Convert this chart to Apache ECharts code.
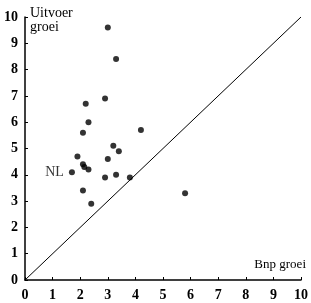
<!DOCTYPE html>
<html>
<head>
<meta charset="utf-8">
<script src="https://cdn.jsdelivr.net/npm/echarts@6/dist/echarts.min.js"></script>
<style>
  html, body { margin: 0; padding: 0; background: #fff; }
  #chart { width: 311px; height: 303px; }
</style>
</head>
<body>
<div id="chart"></div>
<script>
// Bnp groei (x) vs Uitvoer groei (y), one dot per country
const bnpGroei = [3.0, 3.3, 2.9, 2.2, 2.3, 2.1, 4.2, 3.2, 3.4, 1.9, 3.0, 2.1, 2.15, 2.3, 3.3, 2.9, 3.8, 2.1, 2.4, 5.8];
const uitvoerGroei = [9.6, 8.4, 6.9, 6.7, 6.0, 5.6, 5.7, 5.1, 4.9, 4.7, 4.6, 4.4, 4.3, 4.2, 4.0, 3.9, 3.9, 3.4, 2.9, 3.3];
const nlPoint = [1.7, 4.1];
const diagonal = [[0, 0], [10, 10]];

const font = "'Liberation Serif', 'DejaVu Serif', serif";

const chart = echarts.init(document.getElementById("chart"), null, { renderer: "canvas" });

const axisCommon = {
  type: "value",
  min: 0,
  max: 10,
  interval: 1,
  splitLine: { show: false },
  axisLine: { show: true, onZero: false, lineStyle: { color: "#000", width: 1.5 } },
  axisTick: { show: true, inside: true, length: 3, lineStyle: { color: "#000" } },
  axisLabel: { color: "#000", fontFamily: font, fontWeight: "bold", fontSize: 14 },
};

chart.setOption({
  animation: false,
  backgroundColor: "#fff",
  grid: { left: 25, right: 9, top: 17, bottom: 23, containLabel: false },
  xAxis: { ...axisCommon, axisLabel: { ...axisCommon.axisLabel, margin: 8 } },
  yAxis: { ...axisCommon, axisLabel: { ...axisCommon.axisLabel, margin: 7 } },
  graphic: [
    {
      type: "text", left: 30, top: 6,
      style: { text: "Uitvoer\ngroei", fill: "#000", font: "500 14px " + font, lineHeight: 14 },
    },
    {
      type: "text", right: 5, top: 258,
      style: { text: "Bnp groei", fill: "#000", font: "500 13px " + font },
    },
  ],
  series: [
    {
      type: "line",
      data: diagonal,
      symbol: "none",
      lineStyle: { color: "#000", width: 1 },
    },
    {
      type: "scatter",
      data: bnpGroei.map((x, i) => [x, uitvoerGroei[i]]),
      symbolSize: 6,
      itemStyle: { color: "#000" },
    },
    {
      type: "scatter",
      data: [nlPoint],
      symbolSize: 6,
      itemStyle: { color: "#000" },
      label: {
        show: true,
        position: "left",
        distance: 5,
        formatter: "NL",
        color: "#000",
        fontFamily: font,
        fontSize: 14,
      },
    },
  ],
});
</script>
</body>
</html>
